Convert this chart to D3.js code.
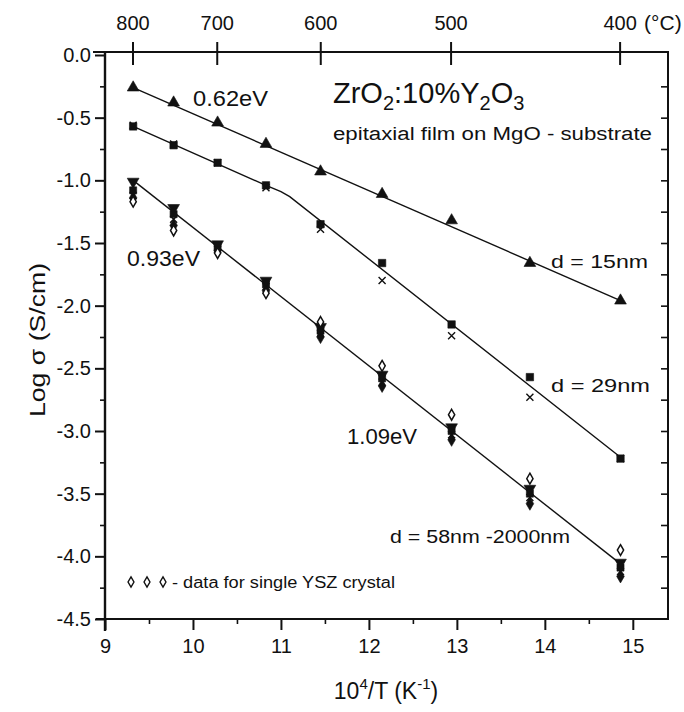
<!DOCTYPE html>
<html>
<head>
<meta charset="utf-8">
<script src="https://cdn.jsdelivr.net/npm/d3@7/dist/d3.min.js"></script>
<style>
  html, body { margin: 0; padding: 0; background: #fff; }
  svg { display: block; font-family: "Liberation Sans", Arial, sans-serif; }
</style>
</head>
<body>
<svg id="chart" width="684" height="712"></svg>
<script>
// Inverse temperature (10^4/T) of each measurement, 800 °C down to 400 °C
const invT = [9.32, 9.78, 10.28, 10.83, 11.45, 12.15, 12.94, 13.83, 14.86];

// log conductivity (S/cm)
const film15 = [-0.26, -0.38, -0.54, -0.71, -0.93, -1.11, -1.32, -1.66, -1.96];
const film29sq = [-0.57, -0.72, -0.86, -1.04, -1.35, -1.66, -2.15, -2.57, -3.22];
const film29x = [-0.56, -0.71, -0.86, -1.06, -1.39, -1.80, -2.24, -2.73, -3.22];
const thickTri = [-1.01, -1.22, -1.51, -1.80, -2.17, -2.55, -2.97, -3.46, -4.05];
const thickSq = [-1.08, -1.27, -1.53, -1.83, -2.20, -2.58, -3.00, -3.50, -4.09];
const thickX = [-1.12, -1.31, -1.55, -1.85, -2.22, -2.61, -3.03, -3.53, -4.12];
const thickDia = [-1.14, -1.36, -1.56, -1.88, -2.25, -2.64, -3.07, -3.58, -4.16];
const crystal = [-1.17, -1.40, -1.58, -1.90, -2.13, -2.48, -2.87, -3.38, -3.95];

// Arrhenius fit lines (knots)
const fit15 = [[9.32, -0.26], [14.86, -1.96]];
const fit29 = [[9.32, -0.57], [10.83, -1.04], [11.0, -1.09], [11.1, -1.13], [14.86, -3.21]];
const fitThick = [[9.32, -1.0], [14.86, -4.06]];

// Axis ticks
const xTicks = [9, 10, 11, 12, 13, 14, 15];
const xMinor = [9.5, 10.5, 11.5, 12.5, 13.5, 14.5];
const yTicks = [0, -0.5, -1, -1.5, -2, -2.5, -3, -3.5, -4, -4.5];
const yMinor = [-0.25, -0.75, -1.25, -1.75, -2.25, -2.75, -3.25, -3.75, -4.25];
const tempTicks = [800, 700, 600, 500, 400];

const svg = d3.select("#chart");
const x = d3.scaleLinear().domain([9, 15.4]).range([105, 668]);
const y = d3.scaleLinear().domain([-4.5, 0]).range([619, 55]);
const ink = "#111";

// frame: right side and top temperature axis line
svg.append("line").attr("x1", x(15.4)).attr("x2", x(15.4)).attr("y1", y(0) - 4).attr("y2", y(-4.5))
  .attr("stroke", ink).attr("stroke-width", 2);
svg.append("line").attr("x1", 93).attr("x2", x(15.4) + 1).attr("y1", y(0) - 3).attr("y2", y(0) - 3)
  .attr("stroke", ink).attr("stroke-width", 2);

// bottom axis
const xAxis = svg.append("g").attr("transform", `translate(0,${y(-4.5)})`)
  .call(d3.axisBottom(x).tickValues(xTicks).tickSize(11).tickPadding(9).tickFormat(d3.format("d")));
xAxis.select(".domain").attr("stroke", ink).attr("stroke-width", 2).attr("d", `M${x(9) - 9},0H${x(15.4) + 1}`);
xAxis.selectAll(".tick line").attr("stroke", ink).attr("stroke-width", 2);
xAxis.selectAll(".tick text").attr("font-size", 20).attr("fill", ink).attr("font-family", "Liberation Sans");
svg.append("g").attr("transform", `translate(0,${y(-4.5)})`)
  .call(d3.axisBottom(x).tickValues(xMinor).tickSize(5).tickFormat(""))
  .call(g => g.select(".domain").remove())
  .selectAll("line").attr("stroke", ink).attr("stroke-width", 1.6);

// left axis
const yAxis = svg.append("g").attr("transform", `translate(${x(9)},0)`)
  .call(d3.axisLeft(y).tickValues(yTicks).tickSize(10).tickPadding(4).tickFormat(d3.format(".1f")));
yAxis.select(".domain").attr("stroke", ink).attr("stroke-width", 2.4).attr("d", `M0,${y(0) - 3}V${y(-4.5) + 12}`);
yAxis.selectAll(".tick line").attr("stroke", ink).attr("stroke-width", 2);
yAxis.selectAll(".tick text").attr("font-size", 20).attr("fill", ink).attr("font-family", "Liberation Sans")
  .text(d => d3.format(".1f")(d).replace("−", "-"));
svg.append("g").attr("transform", `translate(${x(9)},0)`)
  .call(d3.axisLeft(y).tickValues(yMinor).tickSize(5).tickFormat(""))
  .call(g => g.select(".domain").remove())
  .selectAll("line").attr("stroke", ink).attr("stroke-width", 1.6);

// right side inward ticks
svg.append("g").attr("transform", `translate(${x(15.4)},0)`)
  .call(d3.axisRight(y).tickValues(yTicks.concat(yMinor).filter(v => v < 0 && v > -4.5)).tickSize(-7).tickFormat(""))
  .call(g => g.select(".domain").remove())
  .selectAll("line").attr("stroke", ink).attr("stroke-width", 1.6);

// top temperature axis
const tPos = t => x(1e4 / (t + 273.15));
const topAxis = svg.append("g");
tempTicks.forEach(t => {
  topAxis.append("line").attr("x1", tPos(t)).attr("x2", tPos(t)).attr("y1", y(0) - 13).attr("y2", y(0) + 10)
    .attr("stroke", ink).attr("stroke-width", 2);
  topAxis.append("text").attr("x", tPos(t)).attr("y", 30).attr("text-anchor", "middle")
    .attr("font-size", 20).attr("fill", ink).text(t);
});
topAxis.append("text").attr("x", tPos(400) + 24).attr("y", 30).attr("font-size", 21).attr("fill", ink)
  .text("(°C)");

// axis titles
svg.append("text").attr("transform", `translate(45,340) rotate(-90)`).attr("text-anchor", "middle")
  .attr("font-size", 22).attr("fill", ink).attr("textLength", 154).attr("lengthAdjust", "spacingAndGlyphs")
  .text("Log σ (S/cm)");
const xt = svg.append("text").attr("x", 386).attr("y", 699).attr("text-anchor", "middle")
  .attr("font-size", 23).attr("fill", ink);
xt.append("tspan").text("10");
xt.append("tspan").attr("dy", -10).attr("font-size", 15).text("4");
xt.append("tspan").attr("dy", 10).text("/T (K");
xt.append("tspan").attr("dy", -10).attr("font-size", 15).text("-1");
xt.append("tspan").attr("dy", 10).text(")");

// fit lines
const line = d3.line().x(d => x(d[0])).y(d => y(d[1]));
[fit15, fit29, fitThick].forEach(f => {
  svg.append("path").attr("d", line(f)).attr("fill", "none").attr("stroke", ink).attr("stroke-width", 1.4);
});

// markers
function pts(vals) { return vals.map((v, i) => [invT[i], v]); }
function plot(vals, type, size, filled) {
  const sym = d3.symbol().type(type).size(size);
  svg.append("g").selectAll("path").data(pts(vals)).join("path")
    .attr("transform", d => `translate(${x(d[0])},${y(d[1])})` + (type === "tridown" ? " rotate(180)" : ""))
    .attr("d", type === "tridown" ? d3.symbol().type(d3.symbolTriangle).size(size)() : sym())
    .attr("fill", filled ? ink : "#fff")
    .attr("stroke", ink).attr("stroke-width", filled ? 0.6 : 1.5);
}
function crosses(vals, r) {
  svg.append("g").selectAll("path").data(pts(vals)).join("path")
    .attr("d", d => `M${x(d[0]) - r},${y(d[1]) - r}L${x(d[0]) + r},${y(d[1]) + r}M${x(d[0]) - r},${y(d[1]) + r}L${x(d[0]) + r},${y(d[1]) - r}`)
    .attr("stroke", ink).attr("stroke-width", 1.4);
}

plot(film15, d3.symbolTriangle, 60, true);
crosses(film29x, 3.5);
plot(film29sq, d3.symbolSquare, 55, true);

plot(thickDia, d3.symbolDiamond, 50, true);
crosses(thickX, 3.5);
plot(thickSq, d3.symbolSquare, 50, true);
plot(thickTri, "tridown", 60, true);
plot(crystal, d3.symbolDiamond, 34, false);

// annotations (fitted to the widths of the printed labels)
function label(tx, ty, str, fs, len) {
  const t = svg.append("text").attr("x", tx).attr("y", ty).attr("font-size", fs).attr("fill", ink).text(str);
  if (len) t.attr("textLength", len).attr("lengthAdjust", "spacingAndGlyphs");
  return t;
}
label(193, 106, "0.62eV", 22, 75);
label(127, 266, "0.93eV", 22, 73);
label(347, 444, "1.09eV", 22, 70);
label(551, 268, "d = 15nm", 18, 97);
label(551, 392, "d = 29nm", 18, 99);
label(390, 543, "d = 58nm -2000nm", 18, 180);
label(333, 140, "epitaxial film on MgO - substrate", 18, 319);

const ttl = svg.append("text").attr("x", 333).attr("y", 103).attr("font-size", 29).attr("fill", ink);
ttl.append("tspan").text("ZrO");
ttl.append("tspan").attr("dy", 7).attr("font-size", 20).text("2");
ttl.append("tspan").attr("dy", -7).text(":10%Y");
ttl.append("tspan").attr("dy", 7).attr("font-size", 20).text("2");
ttl.append("tspan").attr("dy", -7).text("O");
ttl.append("tspan").attr("dy", 7).attr("font-size", 20).text("3");

// legend for single crystal symbols
const legendX = [131, 147, 163];
legendX.forEach(lx => {
  svg.append("path").attr("transform", `translate(${lx},582)`)
    .attr("d", d3.symbol().type(d3.symbolDiamond).size(30)())
    .attr("fill", "#fff").attr("stroke", ink).attr("stroke-width", 1.4);
});
label(172, 588, "- data for single YSZ crystal", 16, 223);
</script>
</body>
</html>
